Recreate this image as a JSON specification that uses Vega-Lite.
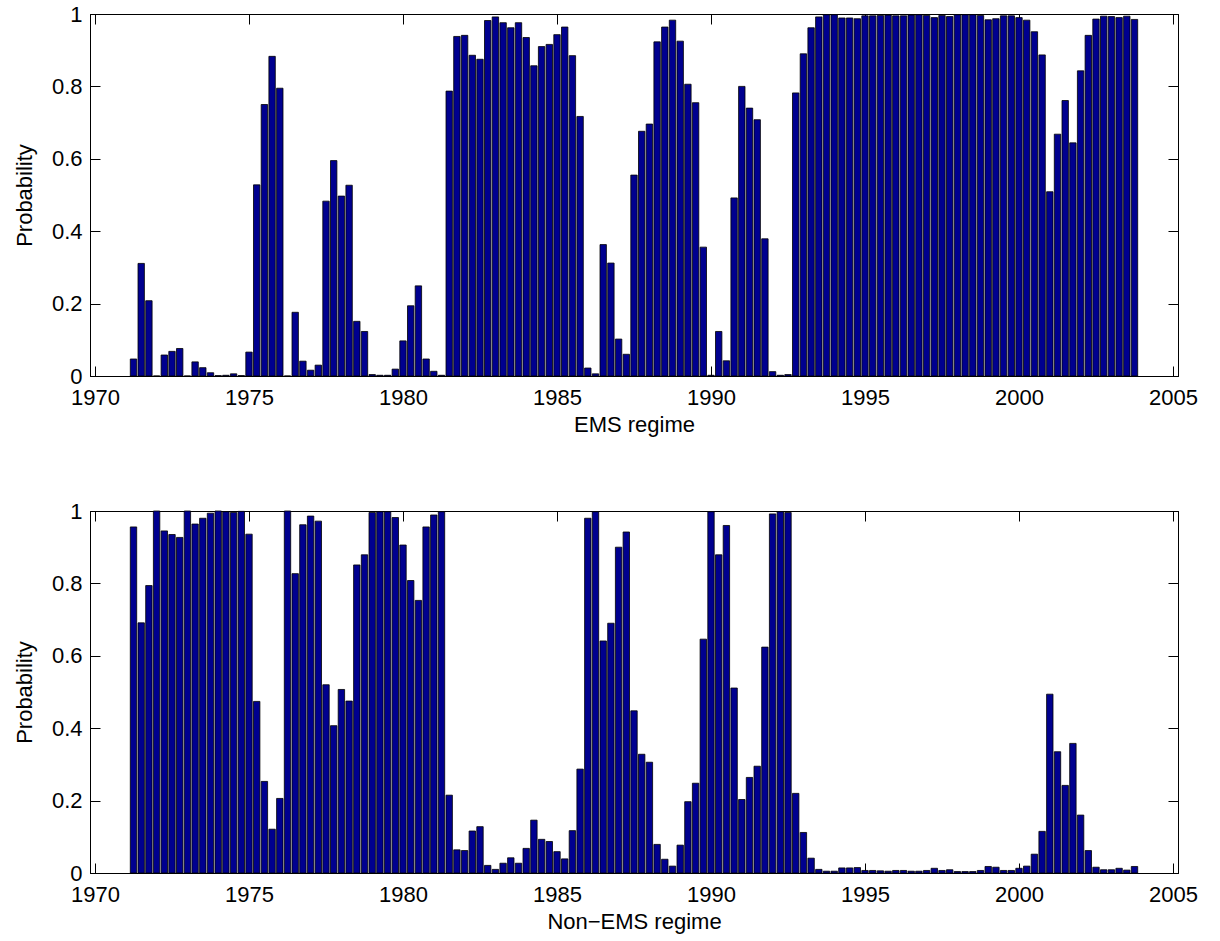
{
  "$schema": "https://vega.github.io/schema/vega-lite/v6.json",
  "background": "white",
  "padding": {"left": 12, "top": 2, "right": 10, "bottom": 4},
  "spacing": 63,
  "config": {
    "view": {"stroke": "black", "strokeWidth": 1},
    "font": "Liberation Sans",
    "axis": {
      "domainColor": "black", "domainWidth": 1,
      "tickColor": "black", "tickWidth": 1, "tickSize": -10,
      "grid": false,
      "labelFont": "Liberation Sans", "labelFontSize": 22, "labelColor": "black",
      "labelFlush": false, "labelOverlap": false, "labelBound": false,
      "titleFont": "Liberation Sans", "titleFontSize": 22, "titleFontWeight": "normal", "titleColor": "black"
    }
  },
  "data": {"values": [
    {"t":1971.25,"ems":0.047,"non":0.956},
    {"t":1971.5,"ems":0.311,"non":0.691},
    {"t":1971.75,"ems":0.208,"non":0.794},
    {"t":1972,"ems":0.0,"non":1.0},
    {"t":1972.25,"ems":0.058,"non":0.945},
    {"t":1972.5,"ems":0.068,"non":0.935},
    {"t":1972.75,"ems":0.076,"non":0.927},
    {"t":1973,"ems":0.0,"non":1.0},
    {"t":1973.25,"ems":0.039,"non":0.964},
    {"t":1973.5,"ems":0.023,"non":0.98},
    {"t":1973.75,"ems":0.009,"non":0.994},
    {"t":1974,"ems":0.001,"non":1.0},
    {"t":1974.25,"ems":0.002,"non":0.998},
    {"t":1974.5,"ems":0.006,"non":0.996},
    {"t":1974.75,"ems":0.001,"non":0.999},
    {"t":1975,"ems":0.066,"non":0.936},
    {"t":1975.25,"ems":0.528,"non":0.474},
    {"t":1975.5,"ems":0.75,"non":0.253},
    {"t":1975.75,"ems":0.883,"non":0.121},
    {"t":1976,"ems":0.795,"non":0.206},
    {"t":1976.25,"ems":0.0,"non":1.0},
    {"t":1976.5,"ems":0.176,"non":0.827},
    {"t":1976.75,"ems":0.041,"non":0.962},
    {"t":1977,"ems":0.016,"non":0.986},
    {"t":1977.25,"ems":0.03,"non":0.972},
    {"t":1977.5,"ems":0.483,"non":0.52},
    {"t":1977.75,"ems":0.595,"non":0.407},
    {"t":1978,"ems":0.497,"non":0.507},
    {"t":1978.25,"ems":0.527,"non":0.475},
    {"t":1978.5,"ems":0.151,"non":0.851},
    {"t":1978.75,"ems":0.123,"non":0.879},
    {"t":1979,"ems":0.004,"non":0.996},
    {"t":1979.25,"ems":0.002,"non":0.998},
    {"t":1979.5,"ems":0.002,"non":0.998},
    {"t":1979.75,"ems":0.019,"non":0.982},
    {"t":1980,"ems":0.097,"non":0.906},
    {"t":1980.25,"ems":0.194,"non":0.808},
    {"t":1980.5,"ems":0.249,"non":0.753},
    {"t":1980.75,"ems":0.047,"non":0.956},
    {"t":1981,"ems":0.013,"non":0.989},
    {"t":1981.25,"ems":0.002,"non":0.998},
    {"t":1981.5,"ems":0.787,"non":0.215},
    {"t":1981.75,"ems":0.938,"non":0.064},
    {"t":1982,"ems":0.941,"non":0.062},
    {"t":1982.25,"ems":0.886,"non":0.116},
    {"t":1982.5,"ems":0.875,"non":0.128},
    {"t":1982.75,"ems":0.982,"non":0.021},
    {"t":1983,"ems":0.992,"non":0.01},
    {"t":1983.25,"ems":0.976,"non":0.027},
    {"t":1983.5,"ems":0.962,"non":0.042},
    {"t":1983.75,"ems":0.976,"non":0.027},
    {"t":1984,"ems":0.935,"non":0.068},
    {"t":1984.25,"ems":0.857,"non":0.146},
    {"t":1984.5,"ems":0.91,"non":0.093},
    {"t":1984.75,"ems":0.916,"non":0.087},
    {"t":1985,"ems":0.943,"non":0.059},
    {"t":1985.25,"ems":0.964,"non":0.039},
    {"t":1985.5,"ems":0.885,"non":0.117},
    {"t":1985.75,"ems":0.717,"non":0.287},
    {"t":1986,"ems":0.022,"non":0.98},
    {"t":1986.25,"ems":0.006,"non":0.998},
    {"t":1986.5,"ems":0.363,"non":0.641},
    {"t":1986.75,"ems":0.312,"non":0.69},
    {"t":1987,"ems":0.102,"non":0.9},
    {"t":1987.25,"ems":0.06,"non":0.942},
    {"t":1987.5,"ems":0.555,"non":0.448},
    {"t":1987.75,"ems":0.676,"non":0.328},
    {"t":1988,"ems":0.696,"non":0.306},
    {"t":1988.25,"ems":0.923,"non":0.079},
    {"t":1988.5,"ems":0.964,"non":0.038},
    {"t":1988.75,"ems":0.983,"non":0.019},
    {"t":1989,"ems":0.925,"non":0.077},
    {"t":1989.25,"ems":0.806,"non":0.197},
    {"t":1989.5,"ems":0.755,"non":0.248},
    {"t":1989.75,"ems":0.356,"non":0.646},
    {"t":1990,"ems":0.002,"non":0.998},
    {"t":1990.25,"ems":0.123,"non":0.879},
    {"t":1990.5,"ems":0.042,"non":0.96},
    {"t":1990.75,"ems":0.492,"non":0.511},
    {"t":1991,"ems":0.8,"non":0.203},
    {"t":1991.25,"ems":0.74,"non":0.264},
    {"t":1991.5,"ems":0.708,"non":0.295},
    {"t":1991.75,"ems":0.379,"non":0.624},
    {"t":1992,"ems":0.012,"non":0.992},
    {"t":1992.25,"ems":0.002,"non":0.998},
    {"t":1992.5,"ems":0.004,"non":0.996},
    {"t":1992.75,"ems":0.782,"non":0.22},
    {"t":1993,"ems":0.89,"non":0.112},
    {"t":1993.25,"ems":0.962,"non":0.041},
    {"t":1993.5,"ems":0.992,"non":0.01},
    {"t":1993.75,"ems":0.998,"non":0.005},
    {"t":1994,"ems":0.998,"non":0.005},
    {"t":1994.25,"ems":0.989,"non":0.014},
    {"t":1994.5,"ems":0.989,"non":0.014},
    {"t":1994.75,"ems":0.987,"non":0.015},
    {"t":1995,"ems":0.995,"non":0.007},
    {"t":1995.25,"ems":0.995,"non":0.007},
    {"t":1995.5,"ems":0.996,"non":0.006},
    {"t":1995.75,"ems":0.997,"non":0.005},
    {"t":1996,"ems":0.995,"non":0.007},
    {"t":1996.25,"ems":0.995,"non":0.007},
    {"t":1996.5,"ems":0.997,"non":0.005},
    {"t":1996.75,"ems":0.998,"non":0.005},
    {"t":1997,"ems":0.996,"non":0.007},
    {"t":1997.25,"ems":0.99,"non":0.013},
    {"t":1997.5,"ems":0.996,"non":0.007},
    {"t":1997.75,"ems":0.993,"non":0.009},
    {"t":1998,"ems":0.998,"non":0.004},
    {"t":1998.25,"ems":0.998,"non":0.004},
    {"t":1998.5,"ems":0.998,"non":0.004},
    {"t":1998.75,"ems":0.996,"non":0.007},
    {"t":1999,"ems":0.984,"non":0.018},
    {"t":1999.25,"ems":0.987,"non":0.016},
    {"t":1999.5,"ems":0.995,"non":0.007},
    {"t":1999.75,"ems":0.995,"non":0.007},
    {"t":2000,"ems":0.99,"non":0.013},
    {"t":2000.25,"ems":0.983,"non":0.019},
    {"t":2000.5,"ems":0.951,"non":0.052},
    {"t":2000.75,"ems":0.887,"non":0.115},
    {"t":2001,"ems":0.509,"non":0.494},
    {"t":2001.25,"ems":0.668,"non":0.335},
    {"t":2001.5,"ems":0.761,"non":0.242},
    {"t":2001.75,"ems":0.644,"non":0.358},
    {"t":2002,"ems":0.843,"non":0.16},
    {"t":2002.25,"ems":0.941,"non":0.062},
    {"t":2002.5,"ems":0.986,"non":0.016},
    {"t":2002.75,"ems":0.994,"non":0.009},
    {"t":2003,"ems":0.993,"non":0.009},
    {"t":2003.25,"ems":0.99,"non":0.013},
    {"t":2003.5,"ems":0.994,"non":0.008},
    {"t":2003.75,"ems":0.985,"non":0.018}
  ]},
  "vconcat": [
    {
      "width": 1088, "height": 362,
      "layer": [
        {
          "mark": {"type": "bar", "width": 6.4, "fill": "#00008F", "stroke": "black", "strokeWidth": 0.8},
          "encoding": {
            "x": {"field": "t", "type": "quantitative",
              "scale": {"domain": [1970, 2005], "nice": false, "zero": false},
              "axis": {"orient": "bottom", "values": [1970,1975,1980,1985,1990,1995,2000,2005], "format": "d",
                "labelPadding": 21.5, "title": "EMS regime", "titleY": 38, "titleBaseline": "top"}},
            "y": {"field": "ems", "type": "quantitative",
              "scale": {"domain": [0, 1], "nice": false},
              "axis": {"orient": "left", "values": [0,0.2,0.4,0.6,0.8,1], "format": "~g",
                "labelPadding": 18, "title": "Probability", "titleX": -66, "titleY": 181,
                "titleAngle": -90, "titleBaseline": "middle", "titleAlign": "center"}}
          }
        },
        {
          "mark": {"type": "bar", "width": 6.4, "opacity": 0},
          "encoding": {
            "x": {"field": "t", "type": "quantitative",
              "axis": {"orient": "top", "values": [1970,1975,1980,1985,1990,1995,2000,2005], "labels": false, "title": null}},
            "y": {"field": "ems", "type": "quantitative",
              "axis": {"orient": "right", "values": [0,0.2,0.4,0.6,0.8,1], "labels": false, "title": null}}
          }
        }
      ],
      "resolve": {"axis": {"x": "independent", "y": "independent"}}
    },
    {
      "width": 1088, "height": 362,
      "layer": [
        {
          "mark": {"type": "bar", "width": 6.4, "fill": "#00008F", "stroke": "black", "strokeWidth": 0.8},
          "encoding": {
            "x": {"field": "t", "type": "quantitative",
              "scale": {"domain": [1970, 2005], "nice": false, "zero": false},
              "axis": {"orient": "bottom", "values": [1970,1975,1980,1985,1990,1995,2000,2005], "format": "d",
                "labelPadding": 21.5, "title": "Non−EMS regime", "titleY": 38, "titleBaseline": "top"}},
            "y": {"field": "non", "type": "quantitative",
              "scale": {"domain": [0, 1], "nice": false},
              "axis": {"orient": "left", "values": [0,0.2,0.4,0.6,0.8,1], "format": "~g",
                "labelPadding": 18, "title": "Probability", "titleX": -66, "titleY": 181,
                "titleAngle": -90, "titleBaseline": "middle", "titleAlign": "center"}}
          }
        },
        {
          "mark": {"type": "bar", "width": 6.4, "opacity": 0},
          "encoding": {
            "x": {"field": "t", "type": "quantitative",
              "axis": {"orient": "top", "values": [1970,1975,1980,1985,1990,1995,2000,2005], "labels": false, "title": null}},
            "y": {"field": "non", "type": "quantitative",
              "axis": {"orient": "right", "values": [0,0.2,0.4,0.6,0.8,1], "labels": false, "title": null}}
          }
        }
      ],
      "resolve": {"axis": {"x": "independent", "y": "independent"}}
    }
  ]
}
